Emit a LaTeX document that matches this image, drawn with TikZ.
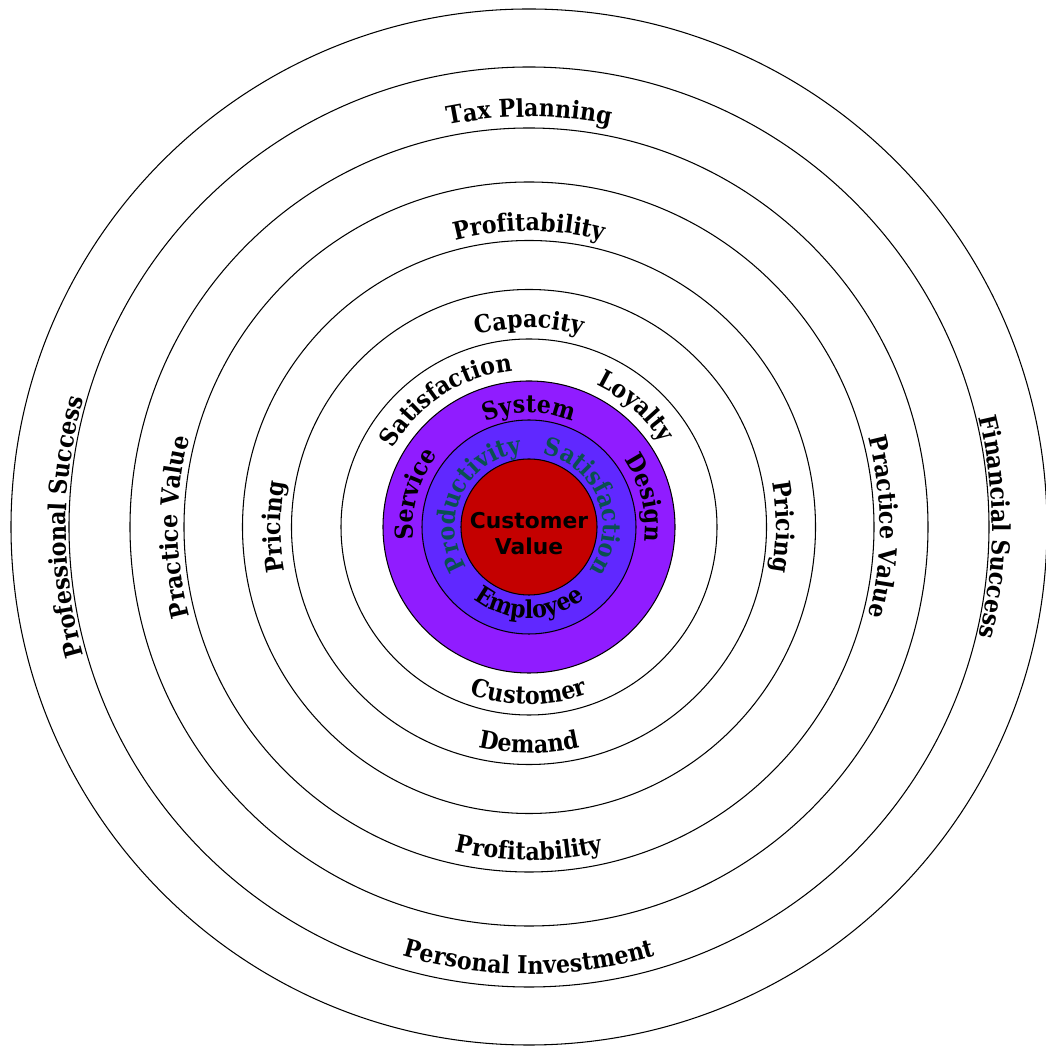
\documentclass[tikz,border=0pt]{standalone}
\usepackage{fontspec}
\setmainfont{DejaVu Serif}[FakeStretch=0.9]
\setsansfont{DejaVu Sans}
\usetikzlibrary{decorations.text}

\definecolor{ringpurple}{RGB}{144,28,255}
\definecolor{ringblue}{RGB}{96,40,255}
\definecolor{corered}{RGB}{196,0,0}
\definecolor{labelteal}{RGB}{10,80,80}

\tikzset{
  ring/.style={draw=black, line width=0.3pt},
  arclabel/.style={decorate, decoration={text along path, text align=center, text/.expand once=#1}},
}

\begin{document}
\begin{tikzpicture}
\useasboundingbox (-5.29,-5.19) rectangle (5.17,5.27);

% Filled core discs
\draw[ring, fill=ringpurple] (0,0) circle (1.46);
\draw[ring, fill=ringblue] (0,0) circle (1.07);
\draw[ring, fill=corered] (0,0) circle (0.68);

% Draw outer rings
\foreach \r in {5.18,4.60,3.99,3.45,2.865,2.375,1.88} {
    \draw[ring] (0,0) circle (\r);
}

% Centre label
\node[font=\sffamily\bfseries\fontsize{6.2}{7.4}\selectfont, align=center] (value) at (0,-0.07) {Customer\\Value};

% Ring labels
\fontsize{7}{8}\selectfont\bfseries
% Labels on top and sides, read clockwise
\foreach \ang/\rad/\txt in {180/4.63/Professional Success, 0/4.63/Financial Success,
    90/4.10/Tax Planning, 180/3.51/Practice Value, 0/3.51/Practice Value,
    90/2.96/Profitability, 180/2.48/Pricing, 0/2.47/Pricing, 90/1.99/Capacity,
    123/1.57/Satisfaction, 48.5/1.57/Loyalty, 90/1.14/System, 164/1.16/Service,
    14/1.16/Design} {
    \path[arclabel=\txt] ({\ang+70}:\rad) arc[start angle=\ang+70, end angle=\ang-70, radius=\rad];
}
% Labels at the bottom, read anticlockwise
\foreach \ang/\rad/\txt in {270/4.47/Personal Investment, 270/3.33/Profitability,
    270/2.26/Demand, 270/1.77/Customer, 270/0.91/Employee} {
    \path[arclabel=\txt] ({\ang-70}:\rad) arc[start angle=\ang-70, end angle=\ang+70, radius=\rad];
}
% Teal labels in the blue ring
\path[decorate, decoration={text along path, text align=center, text={|\color{labelteal}|Productivity}}]
    (224:0.74) arc[start angle=224, end angle=84, radius=0.74];
\path[decorate, decoration={text along path, text align=center, text={|\color{labelteal}|Satisfaction}}]
    (92:0.74) arc[start angle=92, end angle=-48, radius=0.74];
\end{tikzpicture}
\end{document}
